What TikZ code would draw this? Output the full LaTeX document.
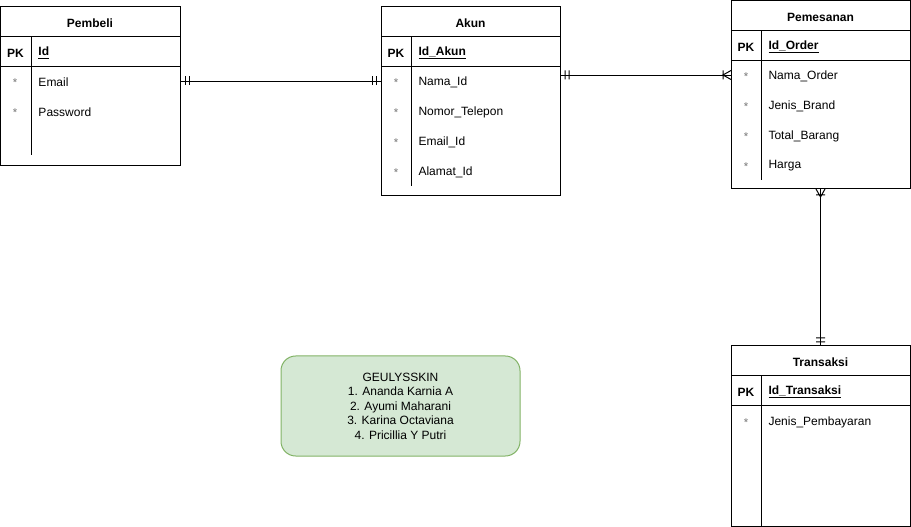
\documentclass[tikz,border=0pt]{standalone}
\usepackage{fontspec}
\setmainfont{Liberation Sans}
\usetikzlibrary{fit}
\definecolor{notefill}{HTML}{D5E8D4}
\definecolor{notedraw}{HTML}{82B366}
\begin{document}
\begin{tikzpicture}[x=0.75pt,y=-0.75pt,line width=0.75pt,
  tbl/.style={draw, inner sep=0pt, line width=0.75pt},
  ttl/.style={font=\bfseries\fontsize{9}{11}\selectfont, inner sep=0pt, yshift=-0.75pt},
  fld/.style={anchor=west, font=\fontsize{9}{11}\selectfont, inner sep=0pt, yshift=-0.75pt},
  keyfld/.style={anchor=west, font=\bfseries\fontsize{9}{11}\selectfont, inner sep=0pt, yshift=-0.75pt},
  pk/.style={font=\bfseries\fontsize{9}{11}\selectfont, inner sep=0pt, yshift=-0.75pt},
  star/.style={font=\fontsize{8.5}{11}\selectfont, text=black!55, inner sep=0pt, yshift=-0.75pt},
  inner/.style={line width=0.75pt},
  conn/.style={line width=0.75pt},
  notebox/.style={draw=notedraw, fill=notefill, rounded corners=11pt, inner sep=0pt, line width=0.75pt},
  notetext/.style={align=center, font=\fontsize{9}{10.9}\selectfont, inner sep=0pt}]
\useasboundingbox (0,0) rectangle (911,527);

% ---------- Pembeli ----------
\node[tbl, fit={(0,7)(180,166)}] (pembeli) {};
\draw[inner] (0,37) -- (180,37) (0,67) -- (180,67) (31,37) -- (31,155);
\node[ttl] (pembeliT) at (90,22) {Pembeli};
\node[pk] (pembeliPK) at (15.5,52) {PK};
\node[keyfld] (pembeliId) at (38,52) {\underline{Id}};
\node[star] (pembeliS1) at (15,82) {*};
\node[fld] (pembeliEmail) at (38,81) {Email};
\node[star] (pembeliS2) at (15,112) {*};
\node[fld] (pembeliPass) at (38,111) {Password};

% ---------- Akun ----------
\node[tbl, fit={(381,7)(560,196)}] (akun) {};
\draw[inner] (381,37) -- (560,37) (381,67) -- (560,67) (411,37) -- (411,186);
\node[ttl] (akunT) at (470.5,22) {Akun};
\node[pk] (akunPK) at (396,52) {PK};
\node[keyfld] (akunId) at (418,52) {\underline{Id\_Akun}};
\node[star] (akunS1) at (396,82) {*};
\node[fld] (akunNama) at (418,81) {Nama\_Id};
\node[star] (akunS2) at (396,112) {*};
\node[fld] (akunTelp) at (418,111) {Nomor\_Telepon};
\node[star] (akunS3) at (396,142) {*};
\node[fld] (akunEmail) at (418,141) {Email\_Id};
\node[star] (akunS4) at (396,172) {*};
\node[fld] (akunAlamat) at (418,171) {Alamat\_Id};

% ---------- Pemesanan ----------
\node[tbl, fit={(731,1)(910,189)}] (pemesanan) {};
\draw[inner] (731,31) -- (910,31) (731,61) -- (910,61) (761,31) -- (761,180);
\node[ttl] (pemesananT) at (820.5,16) {Pemesanan};
\node[pk] (pemesananPK) at (746,46) {PK};
\node[keyfld] (pemesananId) at (768,46) {\underline{Id\_Order}};
\node[star] (pemS1) at (746,76) {*};
\node[fld] (pemNama) at (768,75) {Nama\_Order};
\node[star] (pemS2) at (746,106) {*};
\node[fld] (pemBrand) at (768,105) {Jenis\_Brand};
\node[star] (pemS3) at (746,136) {*};
\node[fld] (pemTotal) at (768,135) {Total\_Barang};
\node[star] (pemS4) at (746,166) {*};
\node[fld] (pemHarga) at (768,165) {Harga};

% ---------- Transaksi ----------
\node[tbl, fit={(731,346)(910,526)}] (transaksi) {};
\draw[inner] (731,376) -- (910,376) (731,406) -- (910,406) (761,376) -- (761,526);
\node[ttl] (transaksiT) at (820.5,361) {Transaksi};
\node[pk] (transaksiPK) at (746,391) {PK};
\node[keyfld] (transaksiId) at (768,391) {\underline{Id\_Transaksi}};
\node[star] (trS1) at (746,422) {*};
\node[fld] (trJenis) at (768,421) {Jenis\_Pembayaran};

% ---------- Note ----------
\node[notebox, fit={(281,356)(520,456)}] (note) {};
\node[notetext] (noteT) at (note.center) {GEULYSSKIN\\1. Ananda Karnia A\\2. Ayumi Maharani\\3. Karina Octaviana\\4. Pricillia Y Putri};

% ---------- Connectors ----------
% Pembeli -- Akun (one and only one both sides)
\draw[conn] (pembeli.east |- pembeliEmail) -- (akun.west |- pembeliEmail);
\draw[conn] (185,76.5) -- (185,85.5) (189,76.5) -- (189,85.5)
            (372,76.5) -- (372,85.5) (376,76.5) -- (376,85.5);
% Akun -- Pemesanan (one to one-or-many)
\draw[conn] (akun.east |- pemNama) -- (pemesanan.west |- pemNama);
\draw[conn] (565,70.5) -- (565,79.5) (569,70.5) -- (569,79.5)
            (723,70.5) -- (723,79.5)
            (731,70.5) -- (723,75) -- (731,79.5);
% Pemesanan -- Transaksi
\draw[conn] (pemesanan.south) -- (transaksi.north);
\draw[conn] (816,195) -- (825,195)
            (816,189) -- (820.5,197) -- (825,189)
            (816,338) -- (825,338) (816,342) -- (825,342);
\end{tikzpicture}
\end{document}
